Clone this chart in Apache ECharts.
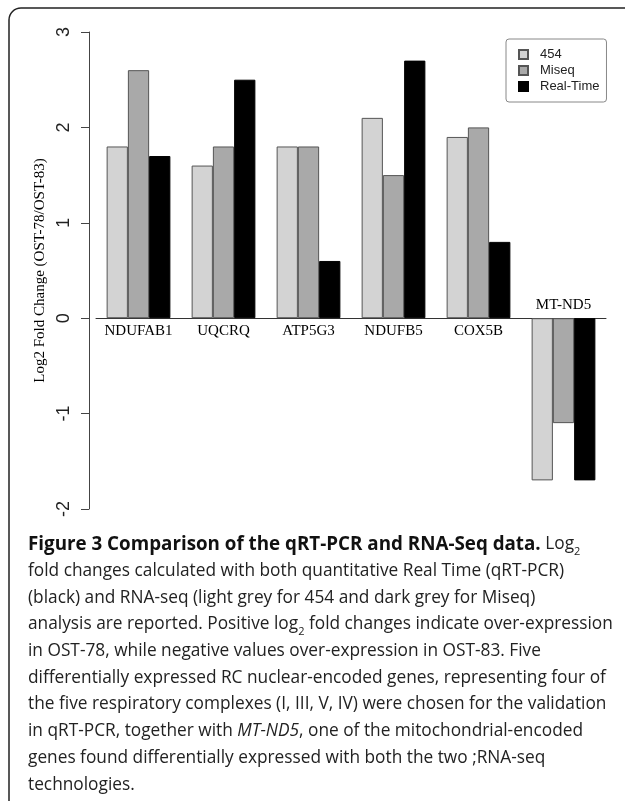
<!DOCTYPE html>
<html>
<head>
<meta charset="utf-8">
<script src="https://cdn.jsdelivr.net/npm/echarts@6/dist/echarts.min.js"></script>
<style>html,body{margin:0;padding:0;background:#fff;}#c{width:625px;height:801px;}</style>
</head>
<body>
<div id="c"></div>
<script>
var categories = ['NDUFAB1', 'UQCRQ', 'ATP5G3', 'NDUFB5', 'COX5B', 'MT-ND5'];
var seriesNames = ['454', 'Miseq', 'Real-Time'];
var values454 = [1.8, 1.6, 1.8, 2.1, 1.9, -1.7];
var valuesMiseq = [2.6, 1.8, 1.8, 1.5, 2.0, -1.1];
var valuesRealTime = [1.7, 2.5, 0.6, 2.7, 0.8, -1.7];
var yTicks = { min: -2, max: 3, interval: 1 };

var chart = echarts.init(document.getElementById('c'), null, { renderer: 'canvas' });

var serif = '"Liberation Serif", "Times New Roman", serif';
var sans = '"Liberation Sans", Arial, sans-serif';
var captionFont = '"Open Sans", "Noto Sans", sans-serif';

function plain(arr) { return arr.slice(); }
var miseqData = valuesMiseq.map(function (v) {
  return { value: v, label: { position: v < 0 ? 'top' : 'bottom', distance: v < 0 ? 6 : 5 } };
});

var caption =
  '{b|Figure 3 Comparison of the qRT-PCR and RNA-Seq data.}{n| Log}{s|2}\n' +
  '{n|fold changes calculated with both quantitative Real Time (qRT-PCR)}\n' +
  '{n|(black) and RNA-seq (light grey for 454 and dark grey for Miseq)}\n' +
  '{n|analysis are reported. Positive log}{s|2}{n| fold changes indicate over-expression}\n' +
  '{n|in OST-78, while negative values over-expression in OST-83. Five}\n' +
  '{n|differentially expressed RC nuclear-encoded genes, representing four of}\n' +
  '{n|the five respiratory complexes (I, III, V, IV) were chosen for the validation}\n' +
  '{n|in qRT-PCR, together with }{i|MT-ND5}{n|, one of the mitochondrial-encoded}\n' +
  '{n|genes found differentially expressed with both the two ;RNA-seq}\n' +
  '{n|technologies.}';

var barBorder = '#555';

var option = {
  animation: false,
  backgroundColor: '#fff',
  graphic: [{
    type: 'rect',
    shape: { x: 9, y: 8, width: 660, height: 840, r: 12 },
    style: { fill: 'none', stroke: '#222', lineWidth: 1.5 },
    silent: true
  }],
  title: {
    text: caption,
    left: 28,
    top: 531,
    padding: 0,
    textStyle: {
      fontWeight: 'normal',
      fontFamily: captionFont,
      fontSize: 17.3,
      rich: {
        b: { fontFamily: captionFont, fontSize: 18.8, fontWeight: 'bold', color: '#111', lineHeight: 26.7 },
        n: { fontFamily: captionFont, fontSize: 17.3, fontWeight: 'normal', color: '#222', lineHeight: 26.7 },
        i: { fontFamily: captionFont, fontSize: 17.3, fontWeight: 'normal', fontStyle: 'italic', color: '#222', lineHeight: 26.7 },
        s: { fontFamily: captionFont, fontSize: 11, fontWeight: 'normal', color: '#222', lineHeight: 26.7, verticalAlign: 'bottom' }
      }
    }
  },
  legend: {
    data: seriesNames,
    orient: 'vertical',
    left: 506,
    top: 39,
    padding: [9, 7, 9, 12],
    itemGap: 3,
    itemWidth: 9,
    itemHeight: 9,
    icon: 'rect',
    borderColor: '#888',
    borderWidth: 1,
    borderRadius: 3,
    textStyle: { fontFamily: sans, fontSize: 13, color: '#222', lineHeight: 13, padding: [0, 0, 0, 7] }
  },
  grid: { left: 96, right: 19, top: 32, bottom: 292, containLabel: false },
  xAxis: {
    type: 'category',
    data: categories,
    axisLine: { show: true, onZero: true, lineStyle: { color: '#333', width: 1 } },
    axisTick: { show: false },
    axisLabel: { show: false },
    splitLine: { show: false }
  },
  yAxis: {
    type: 'value',
    min: yTicks.min,
    max: yTicks.max,
    interval: yTicks.interval,
    offset: 7,
    name: 'Log2 Fold Change (OST-78/OST-83)',
    nameLocation: 'middle',
    nameGap: 38,
    nameTextStyle: { fontFamily: serif, fontSize: 15, color: '#000' },
    axisLine: { show: true, lineStyle: { color: '#444', width: 1 } },
    axisTick: { show: true, length: 8, lineStyle: { color: '#444' } },
    axisLabel: { rotate: 90, margin: 16, fontFamily: sans, fontSize: 18, color: '#222' },
    splitLine: { show: false }
  },
  series: [
    {
      name: seriesNames[0], type: 'bar', data: plain(values454),
      barGap: '0%', barCategoryGap: '25%',
      itemStyle: { color: '#d3d3d3', borderColor: barBorder, borderWidth: 1 }
    },
    {
      name: seriesNames[1], type: 'bar', data: miseqData,
      barGap: '0%', barCategoryGap: '25%',
      itemStyle: { color: '#a9a9a9', borderColor: barBorder, borderWidth: 1 },
      label: { show: true, formatter: '{b}', fontFamily: serif, fontSize: 15, color: '#000' }
    },
    {
      name: seriesNames[2], type: 'bar', data: plain(valuesRealTime),
      barGap: '0%', barCategoryGap: '25%',
      itemStyle: { color: '#000', borderColor: '#000', borderWidth: 1 }
    }
  ]
};
chart.setOption(option);
</script>
</body>
</html>
